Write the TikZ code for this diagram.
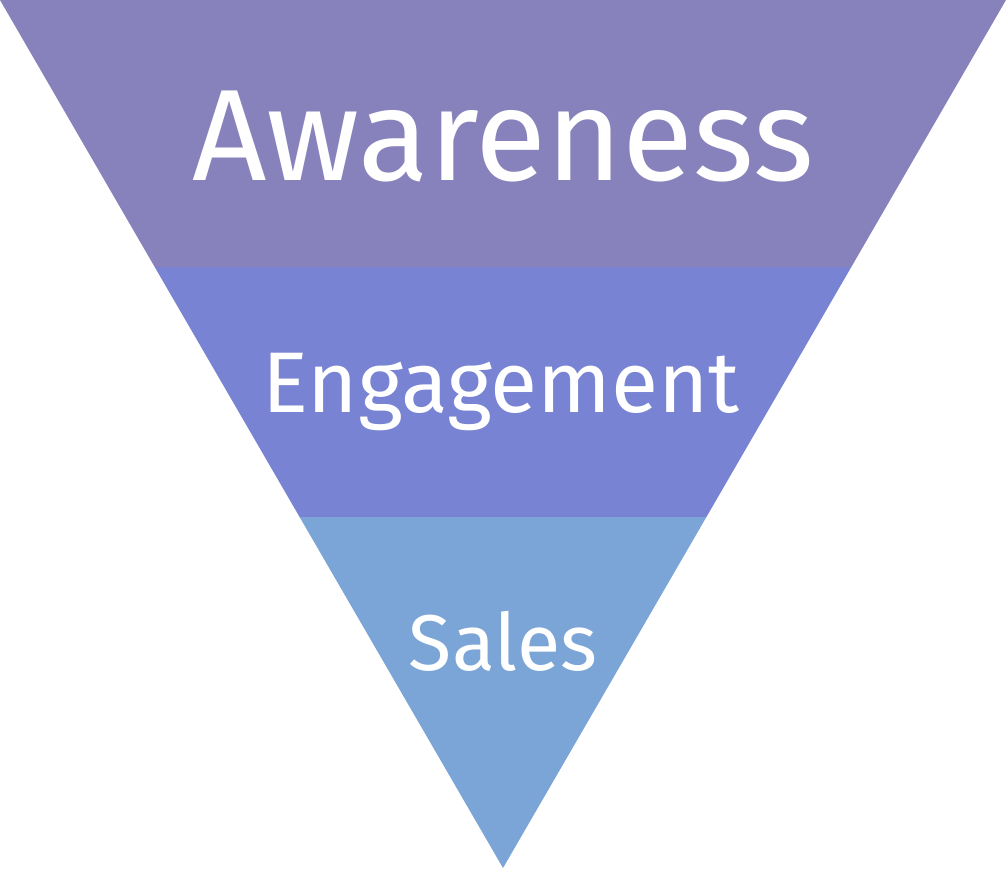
\documentclass[tikz,border=0pt]{standalone}
\usepackage{fontspec}
\setmainfont{Fira Sans}
\definecolor{awarecol}{HTML}{8882BC}
\definecolor{engagecol}{HTML}{7883D3}
\definecolor{salescol}{HTML}{7BA5D6}
\begin{document}
\begin{tikzpicture}[x=0.02cm,y=-0.02cm]
	\tikzstyle{band}=[draw=none]
	\tikzstyle{label}=[text=white,anchor=base,inner sep=0pt]
	\useasboundingbox (0,0) rectangle (1006,868);
	% funnel bands
	\fill[band,awarecol] (0,0) -- (1006,0) -- (851.3,267) -- (154.7,267) -- cycle;
	\fill[band,engagecol] (154.7,267) -- (851.3,267) -- (706.4,517) -- (299.6,517) -- cycle;
	\fill[band,salescol] (299.6,517) -- (706.4,517) -- (503,868) -- cycle;
	% labels
	\node[label,font=\fontsize{74}{74}\selectfont] (aware) at (503,180) {Awareness};
	\node[label,font=\fontsize{49}{49}\selectfont] (engage) at (501,412) {Engagement};
	\node[label,font=\fontsize{45}{45}\selectfont] (sales) at (503,670) {Sales};
\end{tikzpicture}
\end{document}
